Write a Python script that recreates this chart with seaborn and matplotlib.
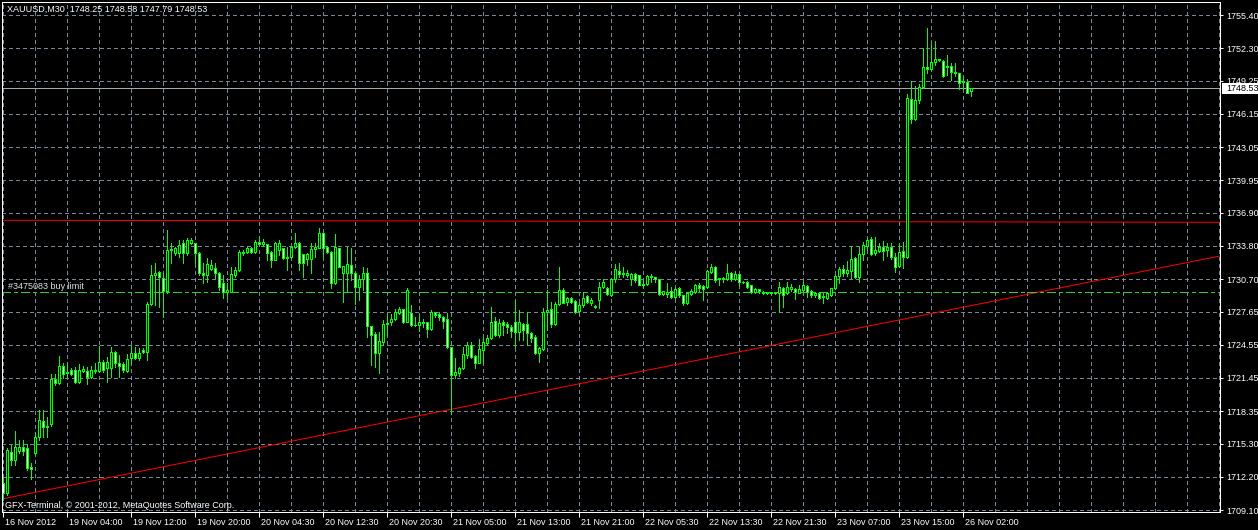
import matplotlib
matplotlib.use("Agg")
import matplotlib.pyplot as plt
import matplotlib.transforms as mtransforms
from matplotlib.patches import Rectangle
import seaborn as sns
import numpy as np

# ---------------- data ----------------
symbol = "XAUUSD,M30"
header_ohlc = "1748.25 1748.58 1747.79 1748.53"

opens = [1711.59, 1710.66, 1714.56, 1713.78, 1714.65, 1714.96, 1714.87, 1713.09, 1714.40, 1715.96,
         1717.42, 1716.83, 1717.14, 1721.32, 1720.95, 1722.60, 1721.88, 1722.20, 1722.20, 1721.10,
         1722.13, 1722.13, 1721.57, 1722.20, 1722.13, 1722.97, 1722.35, 1722.35, 1723.91, 1722.82,
         1722.76, 1722.13, 1723.29, 1723.75, 1723.29, 1724.07, 1723.91, 1728.37, 1731.08, 1731.39,
         1730.77, 1729.61, 1733.48, 1733.11, 1733.11, 1734.04, 1733.11, 1734.04, 1734.04, 1733.11,
         1731.24, 1731.08, 1731.61, 1731.70, 1731.24, 1730.30, 1729.52, 1729.52, 1731.08, 1731.55,
         1733.26, 1733.26, 1733.57, 1733.26, 1734.20, 1733.98, 1733.98, 1733.26, 1732.48, 1733.42,
         1733.57, 1732.64, 1732.73, 1733.67, 1734.04, 1733.01, 1732.55, 1732.55, 1733.48, 1733.64,
         1734.98, 1733.73, 1733.26, 1730.30, 1733.57, 1731.24, 1731.30, 1731.98, 1731.24, 1729.99,
         1730.68, 1731.24, 1726.31, 1725.56, 1723.81, 1724.84, 1726.56, 1726.65, 1726.96, 1727.56,
         1727.87, 1726.72, 1727.49, 1726.40, 1726.43, 1726.62, 1726.68, 1726.06, 1727.59, 1727.40,
         1727.18, 1726.93, 1724.32, 1721.73, 1721.88, 1722.35, 1723.60, 1724.53, 1723.50, 1722.88,
         1724.07, 1724.75, 1725.16, 1726.78, 1725.50, 1726.72, 1726.50, 1726.19, 1726.68, 1725.78,
         1726.50, 1726.50, 1725.69, 1725.25, 1723.75, 1724.13, 1727.65, 1727.90, 1726.50, 1728.37,
         1729.68, 1728.52, 1728.90, 1728.65, 1727.71, 1728.27, 1729.12, 1728.43, 1728.18, 1728.74,
         1729.93, 1729.83, 1729.21, 1730.68, 1731.49, 1731.24, 1731.11, 1730.68, 1731.17, 1731.08,
         1730.24, 1730.21, 1730.99, 1730.86, 1730.68, 1729.27, 1729.30, 1729.58, 1728.99, 1729.83,
         1729.21, 1728.43, 1729.30, 1729.52, 1730.11, 1730.05, 1729.93, 1731.39, 1731.86, 1730.77,
         1730.68, 1730.68, 1731.24, 1730.74, 1731.17, 1730.40, 1730.46, 1730.15, 1729.52, 1729.74,
         1729.52, 1729.37, 1729.46, 1729.37, 1729.37, 1729.90, 1729.37, 1729.74, 1729.74, 1729.43,
         1729.68, 1730.05, 1729.62, 1729.21, 1729.37, 1729.12, 1728.90, 1729.21, 1729.83, 1730.99,
         1731.61, 1731.30, 1731.49, 1732.64, 1730.92, 1733.04, 1733.79, 1734.42, 1733.17, 1733.36,
         1733.67, 1733.42, 1733.67, 1732.73, 1731.92, 1733.29, 1732.73, 1747.51, 1745.64, 1747.45,
         1748.63, 1750.51, 1750.35, 1750.97, 1751.25, 1751.13, 1750.57, 1750.63, 1750.10, 1749.94,
         1749.20, 1749.13, 1748.25]

highs = [1712.22, 1714.87, 1715.18, 1716.52, 1715.65, 1715.65, 1715.27, 1713.46, 1716.27, 1718.45,
         1718.45, 1717.83, 1721.82, 1721.82, 1723.50, 1722.88, 1722.82, 1722.40, 1722.51, 1722.76,
         1722.55, 1722.51, 1722.57, 1722.82, 1724.47, 1723.13, 1723.44, 1724.38, 1724.00, 1723.60,
         1722.97, 1723.66, 1724.44, 1724.32, 1724.22, 1724.22, 1728.59, 1732.02, 1732.17, 1731.45,
         1731.24, 1735.29, 1734.04, 1733.73, 1734.35, 1734.35, 1734.51, 1734.51, 1734.10, 1733.26,
         1732.17, 1732.64, 1732.48, 1732.23, 1731.39, 1731.08, 1730.30, 1731.86, 1731.86, 1733.42,
         1733.40, 1733.73, 1733.73, 1734.35, 1734.67, 1734.42, 1734.00, 1733.30, 1734.15, 1734.35,
         1733.60, 1733.73, 1733.75, 1735.04, 1734.20, 1733.05, 1733.11, 1734.10, 1734.04, 1735.45,
         1735.00, 1733.75, 1733.30, 1734.92, 1733.60, 1731.95, 1733.73, 1733.61, 1731.39, 1731.08,
         1731.86, 1731.70, 1726.35, 1725.78, 1725.78, 1726.87, 1727.40, 1727.43, 1727.87, 1728.06,
         1727.90, 1729.83, 1728.27, 1727.18, 1727.25, 1727.00, 1726.70, 1727.81, 1727.65, 1727.56,
         1727.20, 1727.56, 1724.35, 1723.29, 1722.51, 1724.38, 1724.84, 1724.84, 1723.60, 1725.06,
         1725.31, 1725.47, 1728.12, 1727.18, 1727.00, 1726.87, 1726.72, 1726.40, 1728.74, 1727.81,
         1726.56, 1727.65, 1725.78, 1725.47, 1724.38, 1727.96, 1729.68, 1728.59, 1728.59, 1731.86,
         1729.83, 1729.05, 1729.05, 1728.74, 1728.43, 1729.52, 1729.21, 1728.90, 1728.27, 1730.46,
         1730.68, 1729.93, 1730.77, 1732.11, 1732.17, 1731.80, 1731.55, 1731.30, 1731.24, 1731.10,
         1730.61, 1731.08, 1731.17, 1730.92, 1730.70, 1729.62, 1730.30, 1729.99, 1729.99, 1729.93,
         1729.25, 1729.43, 1729.74, 1730.24, 1730.30, 1730.15, 1731.55, 1732.11, 1731.90, 1730.80,
         1730.92, 1732.11, 1731.39, 1731.49, 1731.20, 1730.55, 1730.55, 1730.17, 1729.83, 1729.76,
         1729.54, 1729.50, 1729.50, 1729.46, 1730.46, 1729.99, 1730.40, 1730.24, 1729.83, 1730.15,
         1730.46, 1730.15, 1729.68, 1729.52, 1729.52, 1729.37, 1729.40, 1729.90, 1731.08, 1731.80,
         1732.02, 1732.42, 1733.83, 1732.73, 1733.67, 1734.20, 1734.51, 1734.60, 1734.67, 1734.04,
         1734.29, 1734.10, 1734.04, 1733.11, 1734.10, 1734.20, 1748.01, 1749.23, 1748.76, 1748.95,
         1752.31, 1754.15, 1752.69, 1753.00, 1751.30, 1751.19, 1751.66, 1750.94, 1750.94, 1750.01,
         1749.57, 1749.44, 1748.58]

lows = [1710.03, 1710.50, 1713.31, 1713.31, 1714.40, 1714.24, 1712.84, 1711.97, 1714.20, 1715.65,
        1715.96, 1715.96, 1717.00, 1720.79, 1720.90, 1721.42, 1721.57, 1721.70, 1721.00, 1721.00,
        1722.00, 1720.88, 1721.42, 1721.88, 1722.04, 1722.04, 1721.10, 1721.51, 1722.51, 1721.57,
        1722.04, 1722.04, 1722.82, 1723.19, 1723.13, 1723.75, 1723.13, 1728.27, 1728.27, 1728.12,
        1727.18, 1729.37, 1732.17, 1732.95, 1732.80, 1732.17, 1732.95, 1734.00, 1732.17, 1731.08,
        1730.30, 1730.46, 1731.55, 1730.77, 1729.68, 1728.90, 1728.90, 1729.45, 1730.92, 1731.50,
        1732.95, 1733.11, 1733.11, 1733.11, 1733.89, 1733.79, 1732.48, 1731.86, 1732.45, 1732.95,
        1732.55, 1731.55, 1732.64, 1733.57, 1731.55, 1730.86, 1732.02, 1731.30, 1732.80, 1733.57,
        1732.80, 1733.11, 1729.83, 1730.25, 1731.80, 1728.59, 1729.61, 1730.61, 1728.37, 1728.74,
        1729.68, 1725.31, 1722.66, 1722.51, 1721.88, 1724.53, 1725.47, 1726.40, 1726.87, 1727.43,
        1726.62, 1726.70, 1726.31, 1726.31, 1725.87, 1726.19, 1725.25, 1725.94, 1727.12, 1726.87,
        1726.09, 1724.22, 1718.20, 1721.42, 1721.63, 1722.30, 1723.29, 1723.29, 1722.35, 1722.82,
        1722.82, 1724.63, 1725.10, 1725.37, 1725.30, 1725.47, 1725.63, 1725.31, 1724.38, 1725.00,
        1725.00, 1724.53, 1724.85, 1723.69, 1722.97, 1724.10, 1725.94, 1726.19, 1726.40, 1728.27,
        1728.43, 1728.27, 1728.43, 1727.50, 1727.65, 1728.12, 1728.43, 1728.27, 1727.96, 1727.96,
        1729.83, 1729.21, 1729.15, 1730.46, 1730.92, 1730.92, 1730.92, 1730.15, 1730.46, 1730.10,
        1729.99, 1730.15, 1730.46, 1730.46, 1729.21, 1729.21, 1729.05, 1728.90, 1728.90, 1729.05,
        1728.27, 1728.37, 1729.21, 1729.43, 1729.62, 1728.74, 1729.90, 1731.24, 1730.46, 1730.15,
        1730.46, 1730.61, 1730.55, 1730.61, 1730.15, 1730.30, 1729.83, 1729.43, 1729.37, 1729.43,
        1729.30, 1729.30, 1729.33, 1729.33, 1727.65, 1728.12, 1729.30, 1729.62, 1728.81, 1729.37,
        1729.62, 1729.05, 1729.05, 1729.05, 1728.84, 1728.43, 1728.84, 1729.15, 1729.80, 1730.30,
        1730.99, 1730.99, 1730.77, 1730.77, 1730.46, 1732.48, 1733.42, 1732.95, 1732.95, 1733.26,
        1732.48, 1732.86, 1732.55, 1731.39, 1731.80, 1731.70, 1732.64, 1745.33, 1745.58, 1747.20,
        1748.54, 1749.94, 1750.26, 1750.72, 1751.10, 1749.63, 1749.79, 1749.32, 1749.69, 1748.45,
        1748.45, 1748.07, 1747.79]

closes = [1710.72, 1714.71, 1713.78, 1715.02, 1714.96, 1714.65, 1712.99, 1712.90, 1715.96, 1717.52,
          1716.89, 1716.96, 1721.32, 1720.95, 1722.60, 1721.82, 1722.04, 1721.82, 1721.10, 1722.20,
          1722.29, 1721.57, 1722.20, 1722.13, 1722.91, 1722.20, 1722.91, 1723.91, 1722.82, 1722.60,
          1722.20, 1723.19, 1723.75, 1723.29, 1723.75, 1723.91, 1728.37, 1731.08, 1731.24, 1730.92,
          1729.61, 1733.42, 1733.42, 1733.57, 1733.89, 1733.11, 1734.35, 1734.35, 1733.11, 1731.24,
          1731.08, 1732.11, 1732.02, 1731.24, 1729.99, 1729.52, 1729.68, 1731.17, 1731.55, 1733.26,
          1733.11, 1733.57, 1733.26, 1734.20, 1733.98, 1734.17, 1733.17, 1732.48, 1734.10, 1734.10,
          1732.64, 1732.80, 1733.73, 1734.10, 1732.17, 1732.17, 1733.01, 1733.48, 1733.73, 1734.98,
          1733.64, 1733.26, 1730.30, 1733.73, 1731.86, 1731.92, 1732.11, 1731.30, 1729.99, 1730.68,
          1731.24, 1726.31, 1725.47, 1723.81, 1724.94, 1726.50, 1726.47, 1726.96, 1727.62, 1727.87,
          1726.72, 1729.68, 1726.40, 1726.37, 1726.68, 1726.68, 1726.06, 1727.62, 1727.34, 1727.18,
          1726.81, 1724.32, 1721.73, 1722.01, 1722.38, 1723.66, 1724.53, 1723.44, 1722.88, 1724.13,
          1724.84, 1725.22, 1726.65, 1725.47, 1726.62, 1726.40, 1726.25, 1725.87, 1725.75, 1726.68,
          1725.94, 1725.63, 1725.16, 1723.75, 1724.22, 1727.65, 1727.81, 1726.50, 1728.37, 1729.68,
          1728.49, 1728.90, 1728.59, 1727.65, 1728.27, 1728.96, 1728.59, 1728.74, 1728.12, 1729.93,
          1730.46, 1729.30, 1730.68, 1731.61, 1731.17, 1731.17, 1731.24, 1731.17, 1730.61, 1730.15,
          1730.15, 1730.99, 1730.92, 1730.68, 1729.30, 1729.55, 1729.49, 1728.99, 1729.74, 1729.21,
          1728.43, 1729.37, 1729.55, 1730.15, 1729.83, 1729.77, 1731.45, 1731.86, 1730.61, 1730.68,
          1730.77, 1731.24, 1730.71, 1731.17, 1730.46, 1730.46, 1729.93, 1729.52, 1729.74, 1729.62,
          1729.43, 1729.46, 1729.37, 1729.43, 1729.93, 1729.21, 1729.99, 1729.93, 1729.52, 1729.74,
          1730.11, 1729.52, 1729.21, 1729.43, 1728.90, 1729.05, 1729.37, 1729.83, 1730.99, 1731.61,
          1731.30, 1731.55, 1732.55, 1730.92, 1733.04, 1733.86, 1734.35, 1733.04, 1733.42, 1733.67,
          1733.36, 1733.73, 1732.73, 1731.86, 1733.20, 1732.73, 1747.60, 1745.64, 1747.45, 1748.63,
          1750.51, 1750.32, 1750.97, 1751.25, 1751.19, 1749.69, 1750.63, 1750.10, 1749.94, 1749.07,
          1749.13, 1748.13, 1748.53]

time_labels = ["16 Nov 2012", "19 Nov 04:00", "19 Nov 12:00", "19 Nov 20:00", "20 Nov 04:30",
               "20 Nov 12:30", "20 Nov 20:30", "21 Nov 05:00", "21 Nov 13:00", "21 Nov 21:00",
               "22 Nov 05:30", "22 Nov 13:30", "22 Nov 21:30", "23 Nov 07:00", "23 Nov 15:00",
               "26 Nov 02:00"]

price_ticks = [1709.10, 1712.20, 1715.30, 1718.35, 1721.45, 1724.55, 1727.65, 1730.70,
               1733.80, 1736.90, 1739.95, 1743.05, 1746.15, 1749.25, 1752.30, 1755.40]

bid_price = 1748.53
order_price = 1729.47
order_label = "#3475083 buy limit"
level_bars = [0, 242]
level_prices = [1736.20, 1736.05]
trend_bars = [0, 242]
trend_prices = [1710.16, 1728.22]
copyright_text = "GFX-Terminal, \u00a9 2001-2012, MetaQuotes Software Corp."

# ---------------- style ----------------
sns.set_theme(style="dark", rc={
    "figure.facecolor": "black",
    "axes.facecolor": "black",
    "axes.edgecolor": "white",
    "text.color": "white",
    "xtick.color": "white",
    "ytick.color": "white",
})
plt.rcParams["font.family"] = ["Liberation Sans", "DejaVu Sans"]
plt.rcParams["lines.scale_dashes"] = False

W, H = 1258, 530
PX = 0.72  # one pixel in points at dpi 100
FS = 6.5
CANDLE = "#00ff00"
GRID = "#778899"

fig = plt.figure(figsize=(W / 100, H / 100), dpi=100)
ax = fig.add_axes([2 / W, 18 / H, 1218 / W, 510 / H])
ax.set_facecolor("black")

n = len(closes)
xs = np.arange(n)
o = np.array(opens)
h = np.array(highs)
l = np.array(lows)
c = np.array(closes)

ax.set_xlim(-0.325, 304.175)
ax.set_ylim(1708.913, 1756.616)

# grid
grid_ls = (0, (3 * PX, 3 * PX))
for gx in range(0, 305, 8):
    ax.axvline(gx, color=GRID, lw=PX, ls=grid_ls, zorder=1, antialiased=False)
for p in price_ticks:
    ax.axhline(p, color=GRID, lw=PX, ls=grid_ls, zorder=1, antialiased=False)

# objects
ax.axline((level_bars[0], level_prices[0]), (level_bars[1], level_prices[1]),
          color="#ff0000", lw=PX, zorder=2)
ax.axline((trend_bars[0], trend_prices[0]), (trend_bars[1], trend_prices[1]),
          color="#ff0000", lw=PX, zorder=2)
ax.axhline(order_price, color="#32cd32", lw=PX,
           ls=(0, (9 * PX, 4 * PX, 3 * PX, 4 * PX)), zorder=2, antialiased=False)
ax.axhline(bid_price, color="#a9a9a9", lw=PX, zorder=2, antialiased=False)

# candles
ax.vlines(xs, l, h, colors=CANDLE, lw=PX, zorder=3, antialiased=False)
bottoms = np.minimum(o, c)
heights = np.abs(c - o)
fills = np.where(c < o, "#ffffff", "#000000")
ax.bar(xs, heights, width=0.5, bottom=bottoms, color=fills, edgecolor=CANDLE,
       linewidth=PX, zorder=4, antialiased=False)

# axes decoration
for s in ax.spines.values():
    s.set_color("white")
    s.set_linewidth(PX)
    s.set_visible(True)
    s.set_zorder(5)

ax.set_yticks(price_ticks)
ax.set_yticklabels([f"{p:.2f}" for p in price_ticks])
ax.yaxis.tick_right()
ax.tick_params(axis="y", which="major", right=True, left=False, labelright=True, labelleft=False,
               direction="out", length=2.5, width=PX, colors="white", pad=2, labelsize=FS)

label_pos = list(range(0, 16 * len(time_labels), 16))
ax.set_xticks(label_pos)
ax.set_xticklabels(time_labels)
ax.tick_params(axis="x", which="major", bottom=True, direction="out", length=3.8, width=PX,
               colors="white", pad=0.5, labelsize=FS)
offset = mtransforms.ScaledTranslation(2 / 100, 0, fig.dpi_scale_trans)
for lbl in ax.get_xticklabels():
    lbl.set_ha("left")
    lbl.set_transform(lbl.get_transform() + offset)
ax.grid(False)

# texts
fig.text(7 / W, 1 - 9 / H, f"{symbol}  {header_ohlc}", color="white", fontsize=FS,
         va="center", ha="left")
blend = mtransforms.blended_transform_factory(fig.transFigure, ax.transData)
ax.text(8 / W, order_price + 0.12, order_label, transform=blend, color="#e0e0e0",
        fontsize=FS, va="bottom", ha="left", zorder=6)
fig.text(5 / W, 1 - 506 / H, copyright_text, color="white", fontsize=FS, va="center", ha="left")

# bid price box on the price scale
box_h = 11.5 / 10.691
fig.patches.append(Rectangle((1221.5 / W, bid_price - box_h / 2), 37 / W, box_h,
                             transform=blend, facecolor="white", edgecolor="none", zorder=1))
fig.text(1226 / W, bid_price, f"{bid_price:.2f}", transform=blend, color="black",
         fontsize=FS, va="center", ha="left", zorder=3)

fig.savefig("out.png", dpi=100, facecolor="black")
